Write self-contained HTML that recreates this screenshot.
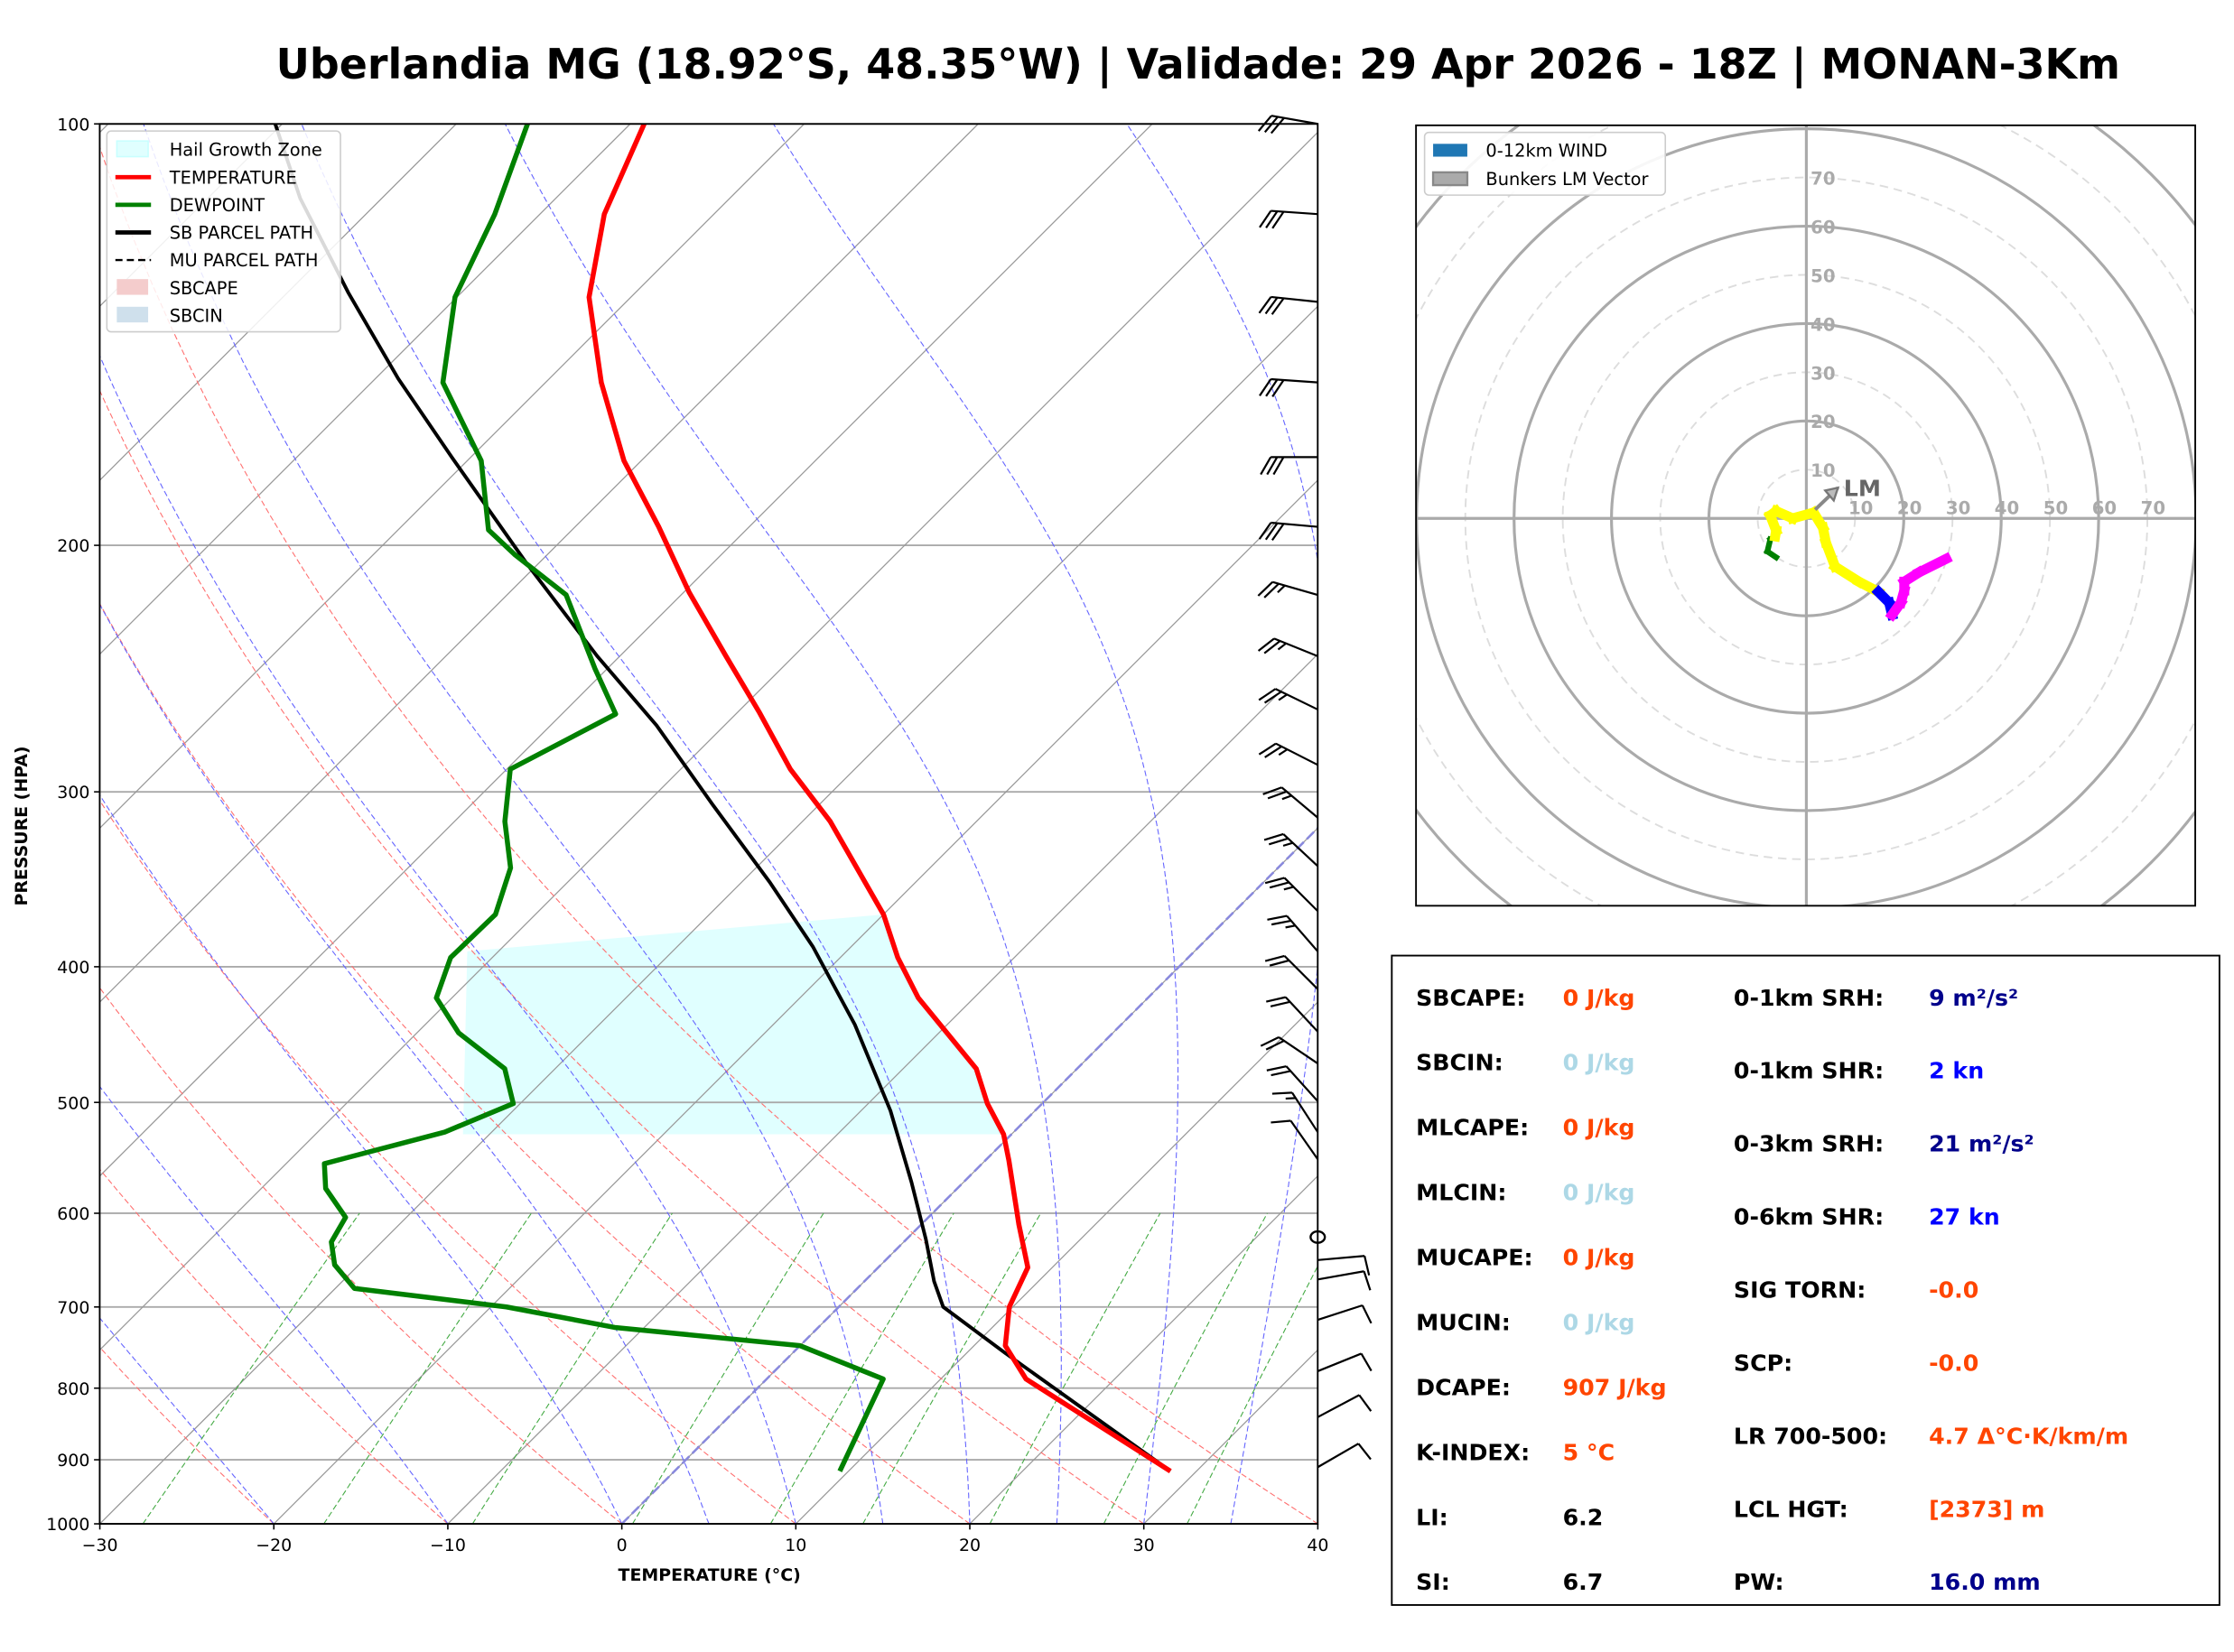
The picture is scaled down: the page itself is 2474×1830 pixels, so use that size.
<!DOCTYPE html>
<html><head><meta charset="utf-8"><style>
html,body{margin:0;padding:0;background:#fff}
svg{display:block}
text{font-family:"DejaVu Sans","Liberation Sans",sans-serif}
</style></head><body>
<svg id="root" xmlns="http://www.w3.org/2000/svg" width="2474" height="1830" viewBox="0 0 1568.2 1160" preserveAspectRatio="none">
<rect x="0" y="0" width="1570" height="1162" fill="#fff"/>
<text x="841" y="55" text-anchor="middle" font-size="29.1" font-weight="bold" fill="#000">Uberlandia MG (18.92°S, 48.35°W) | Validade: 29 Apr 2026 - 18Z | MONAN-3Km</text>
<defs><clipPath id="plotclip"><rect x="70" y="87" width="855" height="983"/></clipPath>
<clipPath id="hodoclip"><rect x="994" y="88" width="547" height="548"/></clipPath></defs>
<g id="skewt"></g>
<g id="hodo"></g>
<g id="stats"></g>
</svg>
<script>
// ---------- data ----------
const tempP = [917,788,746,700,656,611,550,527,501,473,421,394,367,315,289,263,240,216,194,174,153,133,116,100];
const tempT = [28.5,14.9,11.8,9.8,8.6,5.6,1.35,-0.45,-3.15,-5.8,-13.2,-16.7,-20.0,-28.4,-33.7,-38.8,-43.9,-49.7,-55.2,-61.0,-66.8,-72.4,-76.3,-79.2];
const dewP = [917,788,746,724,700,679,653,629,604,576,553,525,501,473,446,421,394,367,340,315,289,264,245,217,203,195,174,153,133,116,100];
const dewT = [9.5,6.7,0.0,-11.7,-19.1,-28.9,-31.4,-32.9,-33.5,-36.3,-37.8,-32.7,-30.4,-32.9,-37.6,-40.9,-42.4,-42.3,-44.1,-47.1,-49.8,-46.9,-50.7,-56.6,-61.9,-64.8,-69.2,-75.9,-80.1,-82.6,-85.9];
const parcelP = [917,755,700,671,626,570,507,440,387,348,306,269,240,206,173,152,132,113,100];
const parcelT = [28.5,12.2,6.0,4.0,1.1,-3.0,-8.3,-15.3,-22.2,-28.4,-36.2,-43.9,-51.3,-60.7,-71.1,-78.7,-86.5,-94.7,-100.4];
const hgzP = [527,390,367];
const pTicks = [100,200,300,400,500,600,700,800,900,1000];
const tTicks = [-30,-20,-10,0,10,20,30,40];
const dryStartT = [-50,-40,-30,-20,-10,0,10,20,30,40];
const moistStart = [-20,-10,0,5,10,15,20,25,30,35];
const mixRatios = [0.4,1,2,4,7,10,16,24,32];
const barbP = [100,116,134,153,173,194,217,240,262,287,313,339,365,390,415,445,469,499,525,549,624,648,669,715,778,839,911];
const barbSpd = [30,30,30,30,30,30,25,25,25,25,25,25,25,25,20,20,20,20,15,10,0,10,10,10,10,10,10];
const barbDir = [280,274,276,274,270,275,286,292,296,297,310,313,315,319,315,317,304,318,327,325,0,85,80,72,68,62,60];
const hodoU = [-6.2,-8.0,-7.4,-6.4,-6.2,-7.4,-6.2,-2.8,1.5,3.4,4.0,5.9,10.8,14.8,17.0,17.6,19.4,20.1,20.1,23.1,28.7];
const hodoV = [-8.0,-6.8,-4.3,-3.7,-2.5,0.6,1.5,0.0,1.2,-1.9,-4.9,-9.9,-13.0,-15.1,-17.3,-19.8,-17.3,-14.8,-13.0,-11.1,-8.3];
const hodoC = ['red','green','green','green','yellow','yellow','yellow','yellow','yellow','yellow','yellow','yellow','yellow','yellow','blue','blue','magenta','magenta','magenta','magenta','magenta'];
const lmVec = [6.5,6.3];
const statLabels1 = ['SBCAPE:','SBCIN:','MLCAPE:','MLCIN:','MUCAPE:','MUCIN:','DCAPE:','K-INDEX:','LI:','SI:'];
const statValues1 = ['0 J/kg','0 J/kg','0 J/kg','0 J/kg','0 J/kg','0 J/kg','907 J/kg','5 °C','6.2','6.7'];
const statColors1 = ['#ff4500','#add8e6','#ff4500','#add8e6','#ff4500','#add8e6','#ff4500','#ff4500','#000','#000'];
const statLabels2 = ['0-1km SRH:','0-1km SHR:','0-3km SRH:','0-6km SHR:','SIG TORN:','SCP:','LR 700-500:','LCL HGT:','PW:'];
const statValues2 = ['9 m²/s²','2 kn','21 m²/s²','27 kn','-0.0','-0.0','4.7 Δ°C·K/km/m','[2373] m','16.0 mm'];
const statColors2 = ['#00008b','#0000ff','#00008b','#0000ff','#ff4500','#ff4500','#ff4500','#ff4500','#00008b'];

// ---------- helpers ----------
const NS='http://www.w3.org/2000/svg';
function mk(tag, parent, attrs){const e=document.createElementNS(NS,tag);for(const k in attrs)e.setAttribute(k,attrs[k]);parent.appendChild(e);return e;}
const X0=70,X1=925,Y0=87,Y1=1070,PX=12.214;
function yP(p){return Y1-Math.log10(1000/p)*983;}
function xT(T,p){return 436.5+T*PX+(Y1-yP(p));}
function pathFrom(ps,ts){return ps.map((p,i)=>(i?'L':'M')+xT(ts[i],p).toFixed(1)+','+yP(p).toFixed(1)).join(' ');}
const sk=document.getElementById('skewt');
const cl=mk('g',sk,{'clip-path':'url(#plotclip)'});



// hail growth zone
{function interp(p){for(let i=0;i<tempP.length-1;i++){if(p<=tempP[i]&&p>=tempP[i+1]){const f=Math.log(tempP[i]/p)/Math.log(tempP[i]/tempP[i+1]);return tempT[i]+f*(tempT[i+1]-tempT[i]);}}return tempT[0];}
let d='M325,'+yP(hgzP[0]).toFixed(1);
const pts=[hgzP[0]];tempP.forEach(p=>{if(p<hgzP[0]&&p>hgzP[2])pts.push(p);});pts.push(hgzP[2]);
pts.forEach(p=>{d+=' L'+xT(interp(p),p).toFixed(1)+','+yP(p).toFixed(1);});
d+=' L328,'+yP(hgzP[1]).toFixed(1)+' Z';
const h=mk('path',cl,{d:d,fill:'#e0ffff',stroke:'none'});

}
// isobars
pTicks.forEach(p=>{const l=mk('line',cl,{x1:X0,x2:X1,y1:yP(p),y2:yP(p),stroke:'#aaa','stroke-width':1.2});

});
// isotherms
for(let T=-120;T<=40;T+=10){const l=mk('line',cl,{x1:xT(T,1000),y1:yP(1000),x2:xT(T,100),y2:yP(100),stroke:'#999','stroke-width':0.8});

}
// dry adiabats
dryStartT.forEach(t0=>{const th=t0+273.15;const ps=[],ts=[];for(let p=1000;p>=100;p-=10){ps.push(p);ts.push(th*Math.pow(p/1000,0.2857)-273.15);}
const l=mk('path',cl,{d:pathFrom(ps,ts),fill:'none',stroke:'#ff7070','stroke-width':0.7,'stroke-dasharray':'4,2'});

});
// moist adiabats
function es(T){return 6.112*Math.exp(17.67*T/(T+243.5));}
moistStart.forEach(t0=>{let T=t0+273.15;const ps=[1000],ts=[t0];
for(let p=1000;p>100;p-=2){const rs=0.622*es(T-273.15)/(p-es(T-273.15));const Lv=2.5e6,Rd=287,cp=1005;
const dTdp=(Rd*T+Lv*rs)/(p*(cp+Lv*Lv*rs*0.622/(Rd*T*T)));T-=dTdp*2;ps.push(p-2);ts.push(T-273.15);}
const l=mk('path',cl,{d:pathFrom(ps,ts),fill:'none',stroke:'#6666ff','stroke-width':0.7,'stroke-dasharray':'4,2'});

});
// mixing ratio lines
mixRatios.forEach(w=>{const ps=[],ts=[];for(let p=1000;p>=600;p-=20){const e=w*p/(622+w);const a=Math.log(e/6.112);ps.push(p);ts.push(243.5*a/(17.67-a));}
const l=mk('path',cl,{d:pathFrom(ps,ts),fill:'none',stroke:'#44aa44','stroke-width':0.7,'stroke-dasharray':'4,2'});

});
// zero isotherm
{const l=mk('line',cl,{x1:xT(0,1000),y1:yP(1000),x2:xT(0,100),y2:yP(100),stroke:'#8888dd','stroke-width':1.6,'stroke-dasharray':'7,3'});

}
// profiles
{const l=mk('path',cl,{d:pathFrom(parcelP,parcelT),fill:'none',stroke:'#000','stroke-width':2.5});

}
{const l=mk('path',cl,{d:pathFrom(tempP,tempT),fill:'none',stroke:'#ff0000','stroke-width':3.5,'stroke-linejoin':'round'});

}
{const l=mk('path',cl,{d:pathFrom(dewP,dewT),fill:'none',stroke:'#008000','stroke-width':3.5,'stroke-linejoin':'round'});

}
// frame
{const r=mk('rect',sk,{x:X0,y:Y0,width:X1-X0,height:Y1-Y0,fill:'none',stroke:'#000','stroke-width':1.2});

}
// ticks
pTicks.forEach(p=>{mk('line',sk,{x1:X0-4,x2:X0,y1:yP(p),y2:yP(p),stroke:'#000'});
const t=mk('text',sk,{x:X0-7,y:yP(p)+4.5,'text-anchor':'end','font-size':12});t.textContent=p;

});
tTicks.forEach(T=>{const x=436.5+T*PX;mk('line',sk,{x1:x,x2:x,y1:Y1,y2:Y1+4,stroke:'#000'});
const t=mk('text',sk,{x:x,y:Y1+19,'text-anchor':'middle','font-size':12});t.textContent=(T<0?'\u2212'+(-T):T);

});
{const t=mk('text',sk,{x:498,y:1110,'text-anchor':'middle','font-size':12,'font-weight':'bold'});t.textContent='TEMPERATURE (°C)';


const t2=mk('text',sk,{x:19,y:580,'text-anchor':'middle','font-size':12,'font-weight':'bold',transform:'rotate(-90 19 580)'});t2.textContent='PRESSURE (HPA)';

}
// wind barbs
barbP.forEach((p,i)=>{const g=mk('g',sk,{});


const y=yP(p),x=X1;
if(barbSpd[i]===0){mk('ellipse',g,{cx:x,cy:y,rx:5,ry:4,fill:'none',stroke:'#000','stroke-width':1.5});return;}
const a=(barbDir[i])*Math.PI/180;const L=33;
const ex=x+Math.sin(a)*L, ey=y-Math.cos(a)*L;
mk('line',g,{x1:x,y1:y,x2:ex,y2:ey,stroke:'#000','stroke-width':1.4});
const ux=(ex-x)/L,uy=(ey-y)/L;
const th=Math.atan2(uy,ux);const ta=ux>0?th+Math.PI/2.2:th-Math.PI/3;
const tx=Math.cos(ta),ty=Math.sin(ta);
let s=barbSpd[i],k=0;
while(s>=10){const bx=ex-ux*k*4.5,by=ey-uy*k*4.5;mk('line',g,{x1:bx,y1:by,x2:bx+tx*14,y2:by+ty*14,stroke:'#000','stroke-width':1.4});s-=10;k++;}
if(s>=5){if(k===0)k=1;const bx=ex-ux*k*4.5,by=ey-uy*k*4.5;mk('line',g,{x1:bx,y1:by,x2:bx+tx*7,y2:by+ty*7,stroke:'#000','stroke-width':1.4});}
});
// legend
{const g=mk('g',sk,{});
mk('rect',g,{x:75,y:92,width:164,height:141,rx:3,fill:'#fff','fill-opacity':0.85,stroke:'#ccc'});
const items=[['Hail Growth Zone','rect','#e0ffff'],['TEMPERATURE','line','#ff0000'],['DEWPOINT','line','#008000'],['SB PARCEL PATH','line','#000'],['MU PARCEL PATH','dash','#000'],['SBCAPE','rect','#f4cccc'],['SBCIN','rect','#cfe0ec']];
items.forEach((it,i)=>{const y=105+i*19.4;
if(it[1]==='rect')mk('rect',g,{x:82,y:y-6,width:22,height:11,fill:it[2],stroke:it[0]==='Hail Growth Zone'?'#c8ffff':'none'});
else mk('line',g,{x1:81,x2:106,y1:y,y2:y,stroke:it[2],'stroke-width':it[1]==='dash'?1.5:3,'stroke-dasharray':it[1]==='dash'?'5,3':'none'});
const t=mk('text',g,{x:119,y:y+4.5,'font-size':12.3});t.textContent=it[0];

});}

// ---------- hodograph ----------
const hg=document.getElementById('hodo');
const HX=1268,HY=364,KS=3.42;
const hc=mk('g',hg,{'clip-path':'url(#hodoclip)'});
for(let r=10;r<=100;r+=10){mk('circle',hc,{cx:HX,cy:HY,r:r*KS,fill:'none',stroke:r%20===0?'#aaa':'#ddd','stroke-width':r%20===0?2:1.2,'stroke-dasharray':r%20===0?'none':'6,4'});}
mk('line',hc,{x1:994,x2:1541,y1:HY,y2:HY,stroke:'#aaa','stroke-width':2});
mk('line',hc,{x1:HX,x2:HX,y1:88,y2:636,stroke:'#aaa','stroke-width':2});
for(let r=10;r<=70;r+=10){const t=mk('text',hg,{x:HX+r*KS+4,y:HY-3,'font-size':12.5,'font-weight':'bold',fill:'#aaa','text-anchor':'middle'});t.textContent=r;

const t2=mk('text',hg,{x:HX+3,y:HY-r*KS+5,'font-size':12.5,'font-weight':'bold',fill:'#aaa'});t2.textContent=r;
}
for(let i=0;i<hodoU.length-1;i++){const l=mk('line',hg,{x1:HX+hodoU[i]*KS,y1:HY-hodoV[i]*KS,x2:HX+hodoU[i+1]*KS,y2:HY-hodoV[i+1]*KS,stroke:hodoC[i+1],'stroke-width':i<3?4:7,'stroke-linecap':'square'});
}
{const ex=HX+lmVec[0]*KS,ey=HY-lmVec[1]*KS;
const l=mk('line',hg,{x1:HX+1.8*KS,y1:HY-1.8*KS,x2:ex,y2:ey,stroke:'#888','stroke-width':2.5});

mk('polygon',hg,{points:`${ex},${ey} ${ex-9},${ey+2} ${ex-3},${ey+9}`,fill:'#bbb',stroke:'#777','stroke-width':1.5});
const t=mk('text',hg,{x:ex+4,y:ey+6,'font-size':16,'font-weight':'bold',fill:'#666'});t.textContent='LM';
}
mk('rect',hg,{x:994,y:88,width:547,height:548,fill:'none',stroke:'#000','stroke-width':1.2});
{const g=mk('g',hg,{});
mk('rect',g,{x:1000,y:93,width:169,height:44,rx:3,fill:'#fff','fill-opacity':0.9,stroke:'#ccc'});
mk('rect',g,{x:1006,y:101,width:24,height:9,fill:'#1f77b4'});
mk('rect',g,{x:1006,y:121,width:24,height:9,fill:'#aaa',stroke:'#888','stroke-width':1.5});
const t1=mk('text',g,{x:1043,y:110,'font-size':12.3});t1.textContent='0-12km WIND';

const t2=mk('text',g,{x:1043,y:130,'font-size':12.3});t2.textContent='Bunkers LM Vector';
}

// ---------- stats ----------
const st=document.getElementById('stats');
mk('rect',st,{x:977,y:671,width:581,height:456,fill:'#fff',stroke:'#000','stroke-width':1.2});
statLabels1.forEach((s,i)=>{const y=706+i*45.6;
const a=mk('text',st,{x:994,y:y,'font-size':16,'font-weight':'bold'});a.textContent=s;

const b=mk('text',st,{x:1097,y:y,'font-size':16,'font-weight':'bold',fill:statColors1[i]});b.textContent=statValues1[i];
});
statLabels2.forEach((s,i)=>{const y=706+i*51.3;
const a=mk('text',st,{x:1217,y:y,'font-size':16,'font-weight':'bold'});a.textContent=s;

const b=mk('text',st,{x:1354,y:y,'font-size':16,'font-weight':'bold',fill:statColors2[i]});b.textContent=statValues2[i];
});
</script>
</body></html>
